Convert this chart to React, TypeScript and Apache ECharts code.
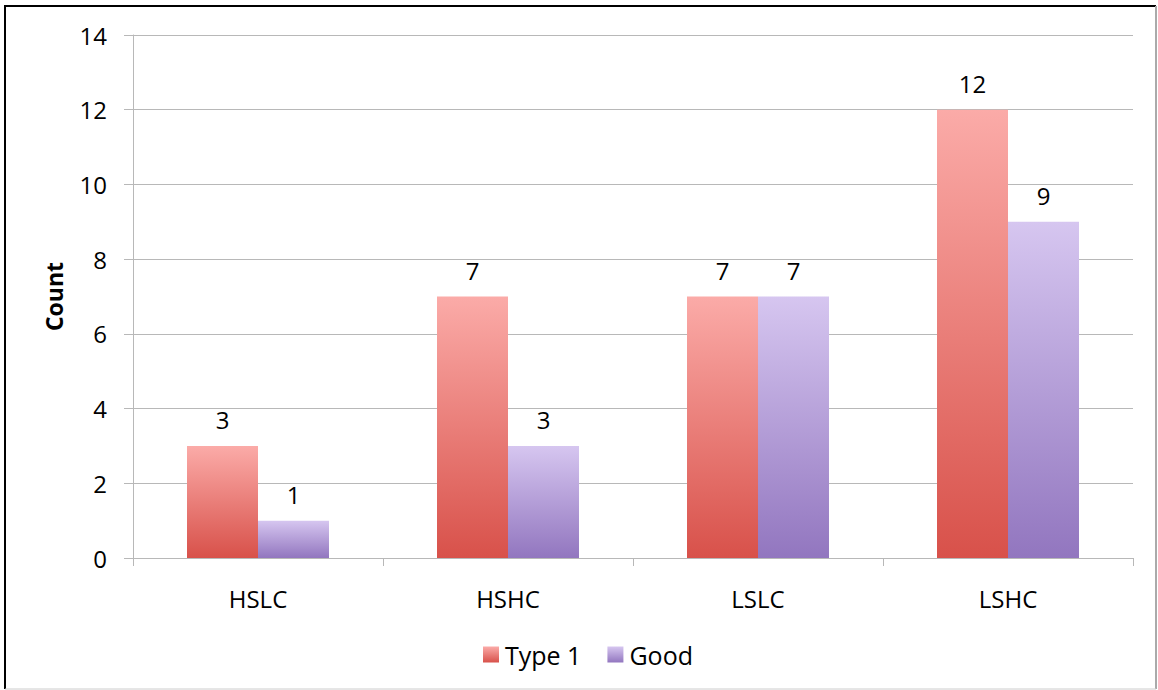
import React, { useEffect, useRef } from "react";
import * as echarts from "echarts";

const categories = ["HSLC", "HSHC", "LSLC", "LSHC"];
const type1Values = [3, 7, 7, 12];
const goodValues = [1, 3, 7, 9];
const yTicks = [0, 2, 4, 6, 8, 10, 12, 14];

const FONT = "'Open Sans', sans-serif";

export default function App() {
  const ref = useRef<HTMLDivElement>(null);
  useEffect(() => {
    if (!ref.current) return;
    const chart = echarts.init(ref.current, null, { renderer: "svg" });
    const grad = (top: string, bottom: string) =>
      new echarts.graphic.LinearGradient(0, 0, 0, 1, [
        { offset: 0, color: top },
        { offset: 1, color: bottom },
      ]);
    chart.setOption({
      animation: false,
      backgroundColor: "#ffffff",
      textStyle: { fontFamily: FONT },
      grid: { left: 133, right: 25, top: 35, bottom: 132 },
      graphic: [
        { type: "line", shape: { x1: 5, y1: 6, x2: 5, y2: 689 }, style: { stroke: "#000", lineWidth: 2 } },
        { type: "line", shape: { x1: 4, y1: 6, x2: 1156, y2: 6 }, style: { stroke: "#000", lineWidth: 2 } },
        { type: "line", shape: { x1: 1156, y1: 6, x2: 1156, y2: 689 }, style: { stroke: "#aaa", lineWidth: 2 } },
        { type: "line", shape: { x1: 5, y1: 689, x2: 1156, y2: 689 }, style: { stroke: "#ccc", lineWidth: 1 } },
      ],
      legend: {
        data: ["Type 1", "Good"],
        left: 478,
        top: 637,
        icon: "rect",
        itemWidth: 16,
        itemHeight: 16,
        itemGap: 26,
        textStyle: { fontSize: 25, color: "#000", fontFamily: FONT, padding: [0, 0, 0, 1] },
      },
      xAxis: {
        type: "category",
        data: categories,
        axisLine: { lineStyle: { color: "#B8B8B8", width: 1 } },
        axisTick: { show: true, length: 8, lineStyle: { color: "#B8B8B8" } },
        axisLabel: { fontSize: 24, color: "#000", margin: 28, fontFamily: FONT },
      },
      yAxis: {
        type: "value",
        min: 0,
        max: 14,
        interval: 2,
        name: "Count",
        nameLocation: "middle",
        nameGap: 68,
        nameRotate: 90,
        nameTextStyle: { fontSize: 23, fontWeight: "bold", color: "#000", fontFamily: FONT },
        axisLine: { show: true, lineStyle: { color: "#B8B8B8", width: 1 } },
        axisTick: { show: true, length: 9, lineStyle: { color: "#B8B8B8" } },
        splitLine: { lineStyle: { color: "#B8B8B8", width: 1 } },
        axisLabel: {
          fontSize: 24,
          color: "#000",
          margin: 26,
          fontFamily: FONT,
          formatter: (v: number) => (yTicks.includes(v) ? String(v) : ""),
        },
      },
      series: [
        {
          name: "Type 1",
          type: "bar",
          data: type1Values,
          barWidth: 71,
          barGap: "0%",
          itemStyle: { color: grad("#FBABA8", "#D8514A") },
          label: { show: true, position: "top", distance: 14, fontSize: 24, color: "#000", fontFamily: FONT },
        },
        {
          name: "Good",
          type: "bar",
          data: goodValues,
          barWidth: 71,
          barGap: "0%",
          itemStyle: { color: grad("#D6C6F0", "#9276BF") },
          label: { show: true, position: "top", distance: 14, fontSize: 24, color: "#000", fontFamily: FONT },
        },
      ],
    });
    return () => chart.dispose();
  }, []);
  return (
    <div
      ref={ref}
      style={{ position: "fixed", left: 0, top: 0, width: 1158, height: 690 }}
    />
  );
}
